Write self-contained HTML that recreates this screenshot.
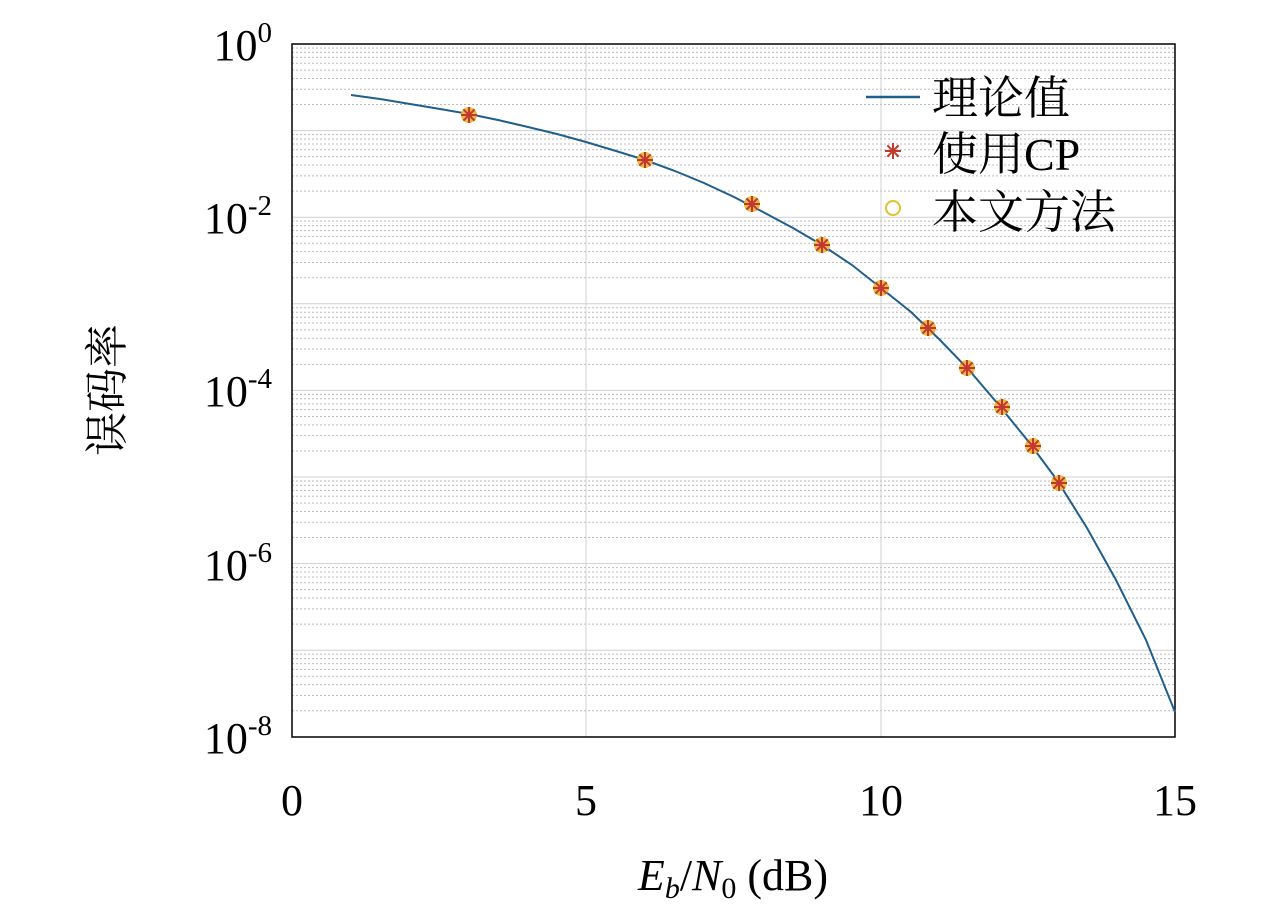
<!DOCTYPE html>
<html><head><meta charset="utf-8"><style>
body{margin:0;background:#fff;}
svg{display:block;font-family:"Liberation Serif","Noto Serif CJK SC",serif;}
</style></head><body>
<svg width="1280" height="917" viewBox="0 0 1280 917" xmlns="http://www.w3.org/2000/svg">
<rect width="1280" height="917" fill="#fff"/>
<g id="grid" stroke="#bbb" stroke-width="1"></g>
<rect x="292" y="44" width="883" height="693" fill="none" stroke="#000" stroke-width="1.5"/>
<g font-size="44" fill="#000">
<text x="292" y="815" text-anchor="middle">0</text>
<text x="586" y="815" text-anchor="middle">5</text>
<text x="881" y="815" text-anchor="middle">10</text>
<text x="1175" y="815" text-anchor="middle">15</text>
<text x="272" y="60" text-anchor="end">10<tspan dy="-18" font-size="29">0</tspan></text>
<text x="272" y="233" text-anchor="end">10<tspan dy="-18" font-size="29">-2</tspan></text>
<text x="272" y="406" text-anchor="end">10<tspan dy="-18" font-size="29">-4</tspan></text>
<text x="272" y="580" text-anchor="end">10<tspan dy="-18" font-size="29">-6</tspan></text>
<text x="272" y="753" text-anchor="end">10<tspan dy="-18" font-size="29">-8</tspan></text>
<text x="733" y="890" text-anchor="middle"><tspan font-style="italic">E</tspan><tspan font-style="italic" font-size="30" dy="8">b</tspan><tspan dy="-8">/</tspan><tspan font-style="italic">N</tspan><tspan font-size="30" dy="8">0</tspan><tspan dy="-8"> (dB)</tspan></text>
<text transform="translate(122,390) rotate(-90)" text-anchor="middle">误码率</text>
</g>
<polyline fill="none" stroke="#1f5f8b" stroke-width="2" points="351,95 380,99 410,104 440,109 469,114 498,120 528,127 557,134 586,142 616,151 645,160 675,171 704,183 734,197 763,212 793,228 822,245 852,265 881,288 911,312 940,340 969,370 998,404 1028,441 1057,480 1087,528 1116,580 1146,640 1175,712"/>
<g id="mk"></g>
<line x1="866" y1="97" x2="920" y2="97" stroke="#1f5f8b" stroke-width="2.5"/>
<g font-size="46" fill="#000">
<text x="932" y="114">理论值</text>
<text x="932" y="170">使用CP</text>
<text x="932" y="228">本文方法</text>
</g>
</svg>
<script>
var ns="http://www.w3.org/2000/svg";
var g=document.getElementById("grid");
function ln(x1,y1,x2,y2,dash,c){var l=document.createElementNS(ns,"line");l.setAttribute("x1",x1);l.setAttribute("y1",y1);l.setAttribute("x2",x2);l.setAttribute("y2",y2);l.setAttribute("stroke",c||"#ccc");l.setAttribute("stroke-width","1");if(dash)l.setAttribute("stroke-dasharray",dash);g.appendChild(l);}
for(var d=0;d<8;d++){var base=44+86.6*(d+1);for(var k=2;k<=9;k++){var y=base-86.6*Math.log10(k);ln(292,y,1175,y,"2,2","#bbb");}if(d<7)ln(292,base,1175,base,null,"#d0d0d0");}
ln(586,44,586,737,null,"#d0d0d0");ln(881,44,881,737,null,"#d0d0d0");
var m=document.getElementById("mk");
var pts=[[469,115],[645,160],[752,204],[822,245],[881,288],[928,328],[967,368],[1002,407],[1033,446],[1059,483]];
function star(x,y){var s="";for(var a=0;a<4;a++){var t=a*Math.PI/4;s+="M"+(x-8*Math.cos(t))+","+(y-8*Math.sin(t))+"L"+(x+8*Math.cos(t))+","+(y+8*Math.sin(t));}
var p=document.createElementNS(ns,"path");p.setAttribute("d",s);p.setAttribute("stroke","#c0392b");p.setAttribute("stroke-width","2");m.appendChild(p);}
function circ(x,y,f){var c=document.createElementNS(ns,"circle");c.setAttribute("cx",x);c.setAttribute("cy",y);c.setAttribute("r",7);c.setAttribute("fill",f);c.setAttribute("stroke","#e0c030");c.setAttribute("stroke-width","2");m.appendChild(c);}
pts.forEach(function(p){circ(p[0],p[1],"#f2b060");star(p[0],p[1]);});
circ(893,208,"none");star(893,151);
</script>
</body></html>
